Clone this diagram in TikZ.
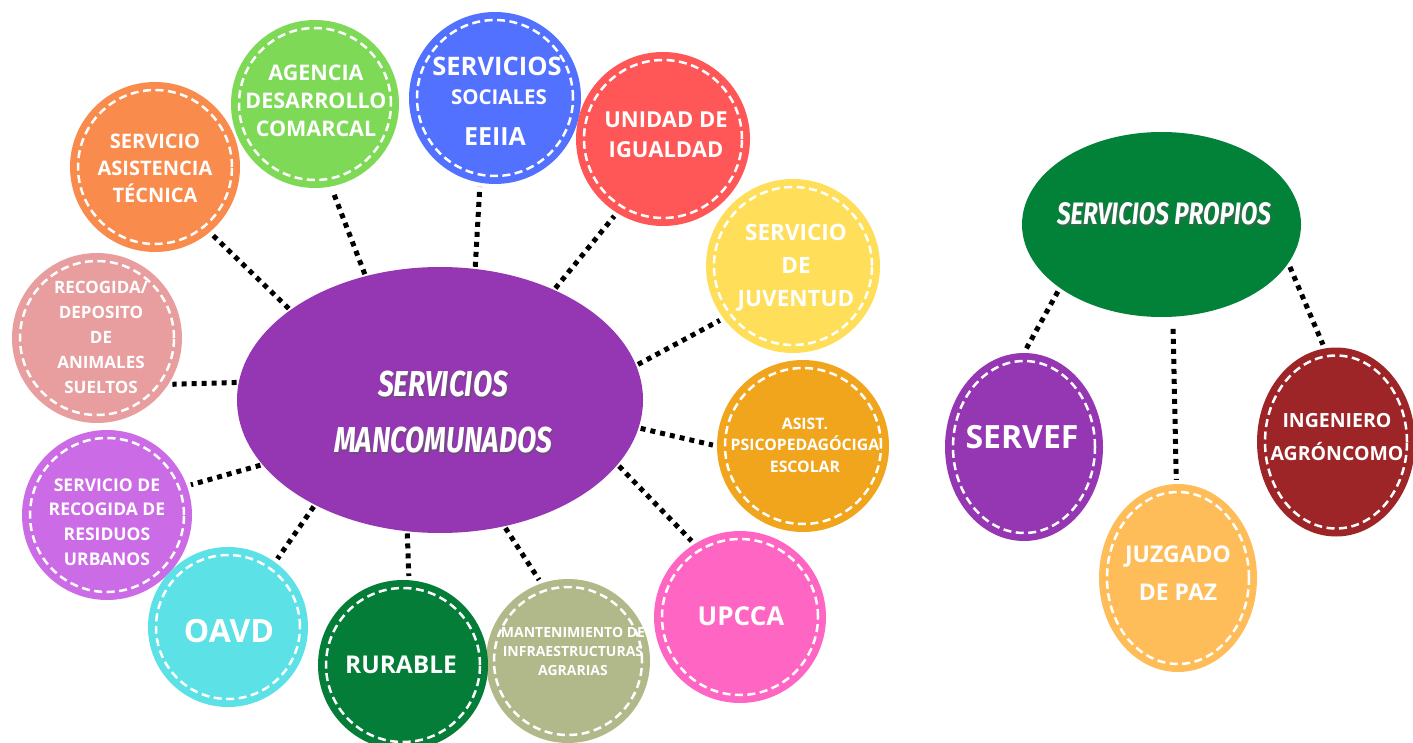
\documentclass[tikz,border=0pt]{standalone}
\usepackage{fontspec}
\setmainfont{Open Sans}
\newfontfamily\titlefont[FakeStretch=0.78]{Fira Sans}
\usetikzlibrary{shapes.geometric}
\definecolor{cOrange}{HTML}{F98B4C}
\definecolor{cGreen}{HTML}{7ED957}
\definecolor{cBlue}{HTML}{5271FF}
\definecolor{cRed}{HTML}{FF5757}
\definecolor{cYellow}{HTML}{FFDE59}
\definecolor{cAsist}{HTML}{F0A51C}
\definecolor{cPink}{HTML}{FF66C4}
\definecolor{cOlive}{HTML}{B1B88A}
\definecolor{cDkGreen}{HTML}{037D38}
\definecolor{cCyan}{HTML}{5CE1E6}
\definecolor{cViolet}{HTML}{CB6CE6}
\definecolor{cSalmon}{HTML}{E89E9E}
\definecolor{cPurple}{HTML}{9537B3}
\definecolor{cPropios}{HTML}{028239}
\definecolor{cJuzgado}{HTML}{FFBD59}
\definecolor{cIng}{HTML}{9D2527}
\tikzset{
  bub/.style={ellipse, fill=#1, draw=none, inner sep=0pt},
  innerdash/.style={white, line width=2.5pt, dash pattern=on 8pt off 4.5pt},
  lab/.style={text=white, align=center, inner sep=0pt},
  conn/.style={black, line width=5pt, dash pattern=on 5pt off 5pt, shorten <=2pt, shorten >=4pt},
  ttl/.style={text=white, inner sep=0pt, align=center},
  ttlshadow/.style={text=black!65, opacity=0.6, inner sep=0pt, align=center},
}
\newcommand\Bub[6]{%
  \node[bub=#6, minimum width=#4*2pt, minimum height=#5*2pt] (#1) at (#2,-#3) {};
  \draw[innerdash] (#1.center) ellipse [x radius=#4pt-8pt, y radius=#5pt-8pt];
}
\begin{document}
\begin{tikzpicture}[x=1pt,y=1pt]
\useasboundingbox (0,0) rectangle (1413,-743);
\fill[white] (0,0) rectangle (1413,-743);

% main ellipses
\node[bub=cPurple, minimum width=406pt, minimum height=266pt] (main) at (440,-400) {};
\node[bub=cPropios, minimum width=279pt, minimum height=185pt] (propios) at (1161.5,-224.5) {};

% bubbles
\Bub{tec}{155}{167}{85}{85}{cOrange}
\Bub{agen}{315}{104}{84}{84}{cGreen}
\Bub{soc}{495}{98}{86}{86}{cBlue}
\Bub{igu}{663}{139}{87}{87}{cRed}
\Bub{juv}{793}{266}{87}{87}{cYellow}
\Bub{psi}{803}{446}{86}{86}{cAsist}
\Bub{upc}{740}{617}{86}{86}{cPink}
\Bub{man}{568}{661}{82}{82}{cOlive}
\Bub{rur}{403}{665}{85}{85}{cDkGreen}
\Bub{res}{107}{515}{85}{85}{cViolet}
\Bub{oav}{228}{627}{80}{80}{cCyan}
\Bub{ani}{97}{338}{85}{85}{cSalmon}
\Bub{serv}{1024}{447}{79}{94}{cPurple}
\Bub{juz}{1178}{578}{79}{94}{cJuzgado}
\Bub{ing}{1336}{442}{79}{94.5}{cIng}

% labels
\node[lab, font=\bfseries\fontsize{20}{27}\selectfont] (ltec) at (155,-168) {SERVICIO\\ASISTENCIA\\TÉCNICA};
\node[lab, font=\bfseries\fontsize{21.5}{28}\selectfont] (lagen) at (316,-101) {AGENCIA\\DESARROLLO\\COMARCAL};
\node[lab, anchor=base, font=\bfseries\fontsize{25.5}{25}\selectfont] (lsoc1) at (497,-76) {SERVICIOS};
\node[lab, anchor=base, font=\bfseries\fontsize{20.5}{18}\selectfont] (lsoc2) at (499,-105) {SOCIALES};
\node[lab, anchor=base, font=\bfseries\fontsize{25}{25}\selectfont] (lsoc3) at (495,-146) {EEIIA};
\node[lab, font=\bfseries\fontsize{22}{30}\selectfont] (ligu) at (666,-135) {UNIDAD DE\\IGUALDAD};
\node[lab, font=\bfseries\fontsize{22.5}{33}\selectfont] (ljuv) at (796,-268) {SERVICIO\\DE\\JUVENTUD};
\node[lab, font=\bfseries\fontsize{15.8}{21.5}\selectfont] (lpsi) at (805,-445) {ASIST.\\PSICOPEDAGÓCIGA\\ESCOLAR};
\node[lab, anchor=base, font=\bfseries\fontsize{26}{26}\selectfont] (lupc) at (741,-625) {UPCCA};
\node[lab, font=\bfseries\fontsize{14}{19}\selectfont] (lman) at (573,-651) {MANTENIMIENTO DE\\INFRAESTRUCTURAS\\AGRARIAS};
\node[lab, anchor=base, font=\bfseries\fontsize{24.5}{24}\selectfont] (lrur) at (401,-673) {RURABLE};
\node[lab, anchor=base, font=\bfseries\fontsize{32}{32}\selectfont] (loav) at (229,-642) {OAVD};
\node[lab, font=\bfseries\fontsize{17.5}{24.7}\selectfont] (lres) at (107,-522) {SERVICIO DE\\RECOGIDA DE\\RESIDUOS\\URBANOS};
\node[lab, font=\bfseries\fontsize{17}{25}\selectfont] (lani) at (101,-337.5) {RECOGIDA/\\DEPOSITO\\DE\\ANIMALES\\SUELTOS};
\node[lab, anchor=base, font=\bfseries\fontsize{32}{32}\selectfont] (lserv) at (1022,-448) {SERVEF};
\node[lab, font=\bfseries\fontsize{19.5}{33}\selectfont] (ling) at (1337,-437) {INGENIERO\\AGRÓNCOMO};
\node[lab, font=\bfseries\fontsize{23}{38}\selectfont] (ljuz) at (1178,-573.5) {JUZGADO\\DE PAZ};

% titles (with soft drop shadow)
\node[ttlshadow, font=\titlefont\bfseries\itshape\fontsize{36}{56}\selectfont] (tmansh) at (444.5,-414) {SERVICIOS\\MANCOMUNADOS};
\node[ttl, font=\titlefont\bfseries\itshape\fontsize{36}{56}\selectfont] (tman) at (443,-412.5) {SERVICIOS\\MANCOMUNADOS};
\node[ttlshadow, anchor=base, font=\titlefont\bfseries\itshape\fontsize{31}{31}\selectfont] (tprosh) at (1165.5,-226.5) {SERVICIOS PROPIOS};
\node[ttl, anchor=base, font=\titlefont\bfseries\itshape\fontsize{31}{31}\selectfont] (tpro) at (1164,-225) {SERVICIOS PROPIOS};

% connectors
\draw[conn] (main.149) -- (tec.-50);
\draw[conn] (main.121) -- (agen.-79);
\draw[conn] (main.75) -- (soc.-100);
\draw[conn] (main.44.5) -- (igu.-122);
\draw[conn] (main.10.7) -- (juv.-143);
\draw[conn] (main.-8.5) -- (psi.180);
\draw[conn] (main.-20.4) -- (upc.122);
\draw[conn] (main.-63) -- (man.109);
\draw[conn] (main.-104) -- (rur.86);
\draw[conn] (main.-140) -- (oav.54);
\draw[conn] (main.-160) -- (res.20);
\draw[conn] (main.175) -- (ani.-33);
\draw[conn, shorten <=4pt] (propios.-148.5) -- (serv.90);
\draw[conn, shorten <=12pt] (propios.-83) -- (juz.91);
\draw[conn, shorten <=4pt] (propios.-17) -- (ing.97);
\end{tikzpicture}
\end{document}
